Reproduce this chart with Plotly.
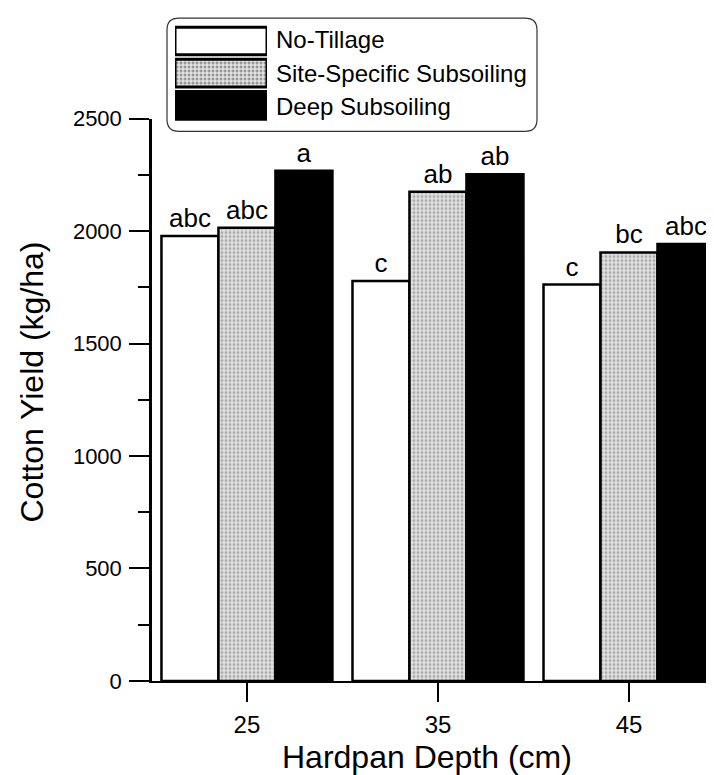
import plotly.graph_objects as go

# ---- data ----
depths = ["25", "35", "45"]
no_tillage = [1978, 1778, 1762]
site_specific = [2015, 2174, 1905]
deep_subsoiling = [2268, 2252, 1942]
letters_nt = ["abc", "c", "c"]
letters_ss = ["abc", "ab", "bc"]
letters_ds = ["a", "ab", "abc"]
series_names = ["No-Tillage", "Site-Specific Subsoiling", "Deep Subsoiling"]
y_ticks = [0, 500, 1000, 1500, 2000, 2500]
x_title = "Hardpan Depth (cm)"
y_title = "Cotton Yield (kg/ha)"

# The html page body has an 8px margin, so the figure is drawn 8px smaller and
# all page-pixel positions are shifted by OFF.
OFF = 8
W, H = 714 - OFF, 775 - OFF
ML, MR, MT, MB = 152 - OFF, 0, 2, 94
PW, PH = W - ML - MR, H - MT - MB
Y0 = H - MB  # figure pixel y of paper 0


def px_x(p):  # page pixel -> paper x
    return (p - OFF - ML) / PW


def px_y(p):  # page pixel -> paper y
    return (Y0 - (p - OFF)) / PH


FONT = "Arial, Liberation Sans, sans-serif"
LINE = dict(color="black", width=2.5)
GRAY_BG = "#e4e4e4"
GRAY_FG = "#6e6e6e"

fig = go.Figure()
fig.add_trace(go.Bar(
    x=depths, y=no_tillage, name=series_names[0], text=letters_nt,
    marker=dict(color="white", line=LINE),
))
fig.add_trace(go.Bar(
    x=depths, y=site_specific, name=series_names[1], text=letters_ss,
    marker=dict(color=GRAY_BG, line=LINE,
                pattern=dict(shape=".", fillmode="overlay", fgcolor=GRAY_FG,
                             size=4, solidity=0.45)),
))
fig.add_trace(go.Bar(
    x=depths, y=deep_subsoiling, name=series_names[2], text=letters_ds,
    marker=dict(color="black", line=LINE),
))
fig.update_traces(textposition="outside", cliponaxis=False,
                  textfont=dict(family=FONT, size=26, color="black"),
                  showlegend=False, selector=dict(type="bar"))

# ---- legend swatches drawn as a small bar chart in its own axes ----
sw_top, sw_bot = 15, 113
fig.add_trace(go.Bar(
    x=[1, 1, 1], y=[0, 1, 2], orientation="h", xaxis="x2", yaxis="y2",
    showlegend=False, hoverinfo="skip", width=0.86,
    marker=dict(color=["white", GRAY_BG, "black"], line=dict(color="black", width=3),
                pattern=dict(shape=["", ".", ""], fillmode="overlay", fgcolor=GRAY_FG,
                             size=4, solidity=0.45)),
))

fig.update_layout(
    width=W, height=H,
    margin=dict(l=ML, r=MR, t=MT, b=MB),
    paper_bgcolor="white", plot_bgcolor="white",
    barmode="group", bargap=0.105, bargroupgap=0,
    font=dict(family=FONT, color="black"),
    xaxis=dict(
        type="category", range=[-0.497, 2.445],
        showline=True, linecolor="black", linewidth=1.5,
        ticks="outside", ticklen=19, tickwidth=2, tickcolor="black",
        tickfont=dict(size=24), ticklabelstandoff=2,
        showgrid=False, zeroline=False,
    ),
    yaxis=dict(
        domain=[0, px_y(110)], range=[0, 2500],
        tickvals=y_ticks,
        showline=True, linecolor="black", linewidth=2.5,
        ticks="outside", ticklen=20, tickwidth=2, tickcolor="black",
        tickfont=dict(size=22), ticklabelstandoff=3,
        minor=dict(dtick=250, ticks="outside", ticklen=11, tickwidth=2, tickcolor="black"),
        showgrid=False, zeroline=False,
    ),
    xaxis2=dict(domain=[px_x(175), px_x(267)], range=[0, 1], anchor="y2",
                visible=False, fixedrange=True),
    yaxis2=dict(domain=[px_y(sw_bot), px_y(sw_top)], range=[2.5, -0.5], anchor="x2",
                visible=False, fixedrange=True),
    showlegend=False,
)

# axis titles
fig.add_annotation(text=x_title, x=px_x(427), y=px_y(775), xref="paper", yref="paper",
                   xanchor="center", yanchor="bottom", yshift=-3, showarrow=False,
                   font=dict(size=32, family=FONT, color="black"))
fig.add_annotation(text=y_title, x=px_x(32), y=px_y(378), xref="paper", yref="paper",
                   xanchor="center", yanchor="middle", textangle=-90, showarrow=False,
                   font=dict(size=32, family=FONT, color="black"))

# legend frame (rounded)
x0, x1, y0, y1, r = px_x(167), px_x(537), px_y(123), px_y(8), 12
rx, ry = r / PW, r / PH
path = (f"M{x0 + rx},{y1} L{x1 - rx},{y1} Q{x1},{y1} {x1},{y1 - ry} "
        f"L{x1},{y0 + ry} Q{x1},{y0} {x1 - rx},{y0} L{x0 + rx},{y0} "
        f"Q{x0},{y0} {x0},{y0 + ry} L{x0},{y1 - ry} Q{x0},{y1} {x0 + rx},{y1} Z")
fig.add_shape(type="path", path=path, xref="paper", yref="paper",
              line=dict(color="#333333", width=1.2), fillcolor="rgba(0,0,0,0)")

for i, name in enumerate(series_names):
    cy = 30 + 34 * i
    fig.add_annotation(text=name, x=px_x(274), y=px_y(cy), xref="paper", yref="paper",
                       xanchor="left", yanchor="middle", showarrow=False,
                       font=dict(size=24, family=FONT, color="black"))

fig.write_html("out.html")
